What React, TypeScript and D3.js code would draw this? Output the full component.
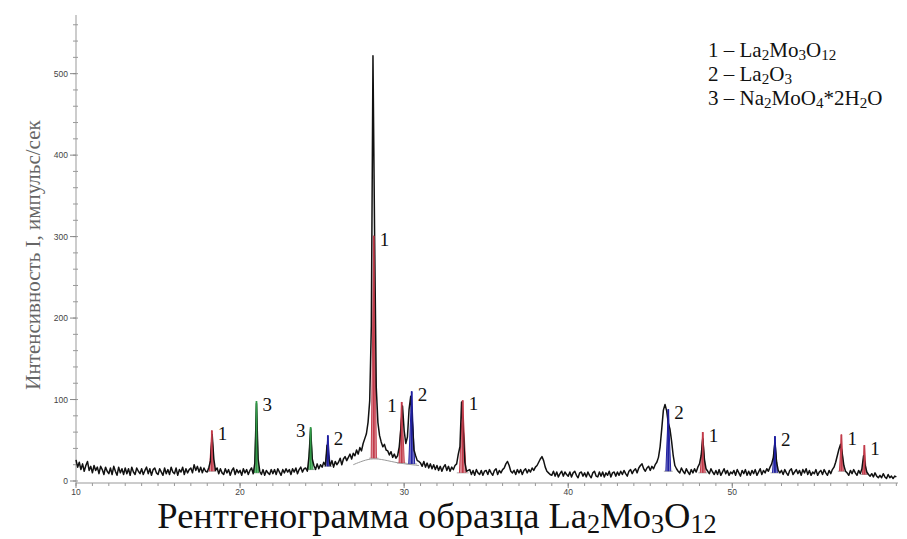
import React from 'react'
import * as d3 from 'd3'

const width = 907
const height = 539

// measured pattern: 2θ from 10.0 in 0.1° steps, one row per degree
const thetaStart = 10
const thetaStep = 0.1
const counts = [
  26, 17, 23, 14, 21, 12, 19, 24, 13, 18,
  10, 19, 13, 17, 9, 18, 14, 8, 17, 12,
  9, 16, 8, 18, 12, 7, 17, 10, 15, 8,
  16, 9, 15, 7, 17, 11, 8, 16, 12, 9,
  15, 8, 13, 17, 9, 15, 7, 14, 16, 10,
  8, 15, 11, 7, 16, 9, 14, 8, 17, 11,
  9, 16, 7, 14, 11, 17, 8, 15, 10, 14,
  16, 10, 20, 13, 18, 11, 17, 10, 16, 12,
  11, 17, 25, 57, 27, 13, 16, 9, 15, 10,
  8, 15, 10, 14, 7, 13, 16, 8, 14, 10,
  13, 7, 15, 10, 14, 8, 13, 16, 9, 22,
  95, 27, 12, 8, 14, 7, 13, 10, 8, 14,
  9, 14, 8, 15, 11, 7, 14, 10, 15, 11,
  14, 8, 15, 11, 16, 9, 14, 17, 11, 15,
  16, 12, 30, 64, 27, 19, 14, 21, 15, 20,
  17, 23, 19, 44, 28, 19, 25, 17, 24, 20,
  23, 28, 20, 27, 30, 25, 29, 33, 27, 34,
  31, 38, 33, 41, 37, 46, 52, 58, 72, 98,
  190, 522, 300, 115, 72, 56, 48, 42, 45, 38,
  37, 32, 36, 29, 33, 28, 31, 42, 64, 92,
  62, 46, 54, 88, 104, 72, 38, 31, 25, 24,
  22, 18, 24, 17, 22, 16, 21, 15, 20, 14,
  19, 13, 18, 12, 17, 20, 13, 18, 12, 17,
  14, 19, 21, 33, 42, 97, 62, 23, 12, 13,
  14, 8, 13, 7, 14, 10, 8, 13, 7, 12,
  13, 8, 14, 10, 7, 13, 15, 8, 13, 10,
  14, 16, 21, 24, 19, 12, 10, 13, 8, 14,
  10, 14, 8, 13, 15, 10, 14, 11, 16, 13,
  17, 19, 23, 27, 30, 25, 17, 12, 10, 8,
  7, 12, 6, 11, 5, 9, 12, 6, 11, 8,
  6, 11, 5, 10, 12, 7, 4, 10, 11, 6,
  10, 5, 11, 7, 4, 10, 12, 6, 5, 11,
  6, 11, 5, 10, 7, 12, 5, 10, 11, 6,
  11, 7, 12, 8, 13, 9, 6, 12, 14, 9,
  13, 15, 10, 16, 19, 21, 15, 12, 16, 18,
  13, 18, 15, 20, 23, 29, 42, 64, 87, 94,
  86, 71, 64, 49, 31, 19, 15, 12, 10, 16,
  12, 9, 15, 11, 8, 14, 10, 15, 11, 17,
  21, 31, 52, 27, 15, 12, 9, 15, 11, 8,
  13, 8, 14, 7, 11, 15, 9, 13, 7, 11,
  9, 13, 7, 14, 10, 6, 13, 9, 14, 7,
  12, 7, 13, 9, 14, 7, 11, 15, 8, 13,
  10, 15, 12, 17, 21, 29, 47, 23, 13, 10,
  13, 8, 14, 10, 7, 13, 15, 8, 11, 14,
  9, 13, 7, 14, 10, 15, 8, 13, 7, 11,
  9, 14, 7, 11, 13, 8, 14, 10, 7, 13,
  9, 14, 17, 23, 31, 39, 45, 34, 19, 12,
  10, 7, 13, 9, 14, 10, 7, 13, 9, 15,
  31, 19, 11, 8, 6, 9, 5, 10, 6, 4,
  7, 4, 9, 5, 3, 8, 4, 6, 3, 6,
  5,
]

// fitted background under the main reflection
const background = [
  [26.9, 20], [27.5, 25], [28.1, 28], [28.8, 26], [29.6, 22], [30.9, 19],
]

// identified reflections
const peakPhase = [1, 3, 3, 2, 1, 1, 2, 1, 2, 1, 2, 1, 1]
const peakPos = [18.28, 21.0, 24.3, 25.35, 28.15, 29.85, 30.46, 33.57, 46.1, 48.2, 52.6, 56.65, 58.05]
const peakTop = [62, 98, 66, 56, 301, 97, 110, 99, 88, 60, 55, 57, 44]
const peakBase = [12, 10, 14, 18, 28, 22, 21, 10, 12, 10, 10, 12, 8]
const peakHalf = [0.15, 0.12, 0.14, 0.14, 0.16, 0.16, 0.18, 0.2, 0.15, 0.15, 0.15, 0.12, 0.12]
const labelSide = ['r', 'r', 'l', 'r', 'r', 'l', 'r', 'r', 'r', 'r', 'r', 'r', 'r']

const phaseColor: Record<number, string> = {1: '#c23b4a', 2: '#1f1fa0', 3: '#2f9a45'}

const xMajor = [10, 20, 30, 40, 50]
const yMajor = [0, 100, 200, 300, 400, 500]

const x = d3.scaleLinear().domain([10, 60.1]).range([76, 898])
const y = d3.scaleLinear().domain([0, 572]).range([481, 15])

const serif = '"Liberation Serif", "Times New Roman", serif'
const sans = '"Liberation Sans", Arial, sans-serif'

const Sub = ({children, size = '72%'}: {children: React.ReactNode; size?: string}) => (
  <tspan baselineShift="-18%" fontSize={size}>{children}</tspan>
)

export default function App() {
  const pattern = counts.map((c, i) => [thetaStart + i * thetaStep, c] as [number, number])
  const line = d3.line<[number, number]>().x(d => x(d[0])).y(d => y(d[1]))
  const bgLine = d3.line<number[]>().x(d => x(d[0])).y(d => y(d[1])).curve(d3.curveBasis)

  const xMinor = d3.range(10, 61, 1)
  const yMinor = d3.range(0, 561, 20)

  return (
    <svg width={width} height={height} style={{position: 'absolute', left: 0, top: 0, background: '#fff'}}>
      {/* axes */}
      <line x1={76} x2={76} y1={y(572)} y2={y(0) + 2} stroke="#999" />
      <line x1={76} x2={898} y1={y(0) + 2} y2={y(0) + 2} stroke="#999" />
      {yMinor.map(v => (
        <line key={'ym' + v} x1={73} x2={78} y1={y(v)} y2={y(v)} stroke="#999" />
      ))}
      {yMajor.map(v => (
        <g key={'y' + v}>
          <line x1={70} x2={76} y1={y(v)} y2={y(v)} stroke="#888" />
          <text x={68} y={y(v) + 3} textAnchor="end" fontFamily={sans} fontSize={8.5} fill="#444">{v}</text>
        </g>
      ))}
      {xMinor.map(v => (
        <line key={'xm' + v} x1={x(v)} x2={x(v)} y1={y(0) + 2} y2={y(0) + 5} stroke="#999" />
      ))}
      {xMajor.map(v => (
        <g key={'x' + v}>
          <line x1={x(v)} x2={x(v)} y1={y(0) + 2} y2={y(0) + 7} stroke="#888" />
          <text x={x(v)} y={y(0) + 13.5} textAnchor="middle" fontFamily={sans} fontSize={8.5} fill="#444">{v}</text>
        </g>
      ))}

      {/* background and reflections */}
      <path d={bgLine(background) || ''} fill="none" stroke="#999" strokeWidth={1} />
      {peakPos.map((p, i) => {
        const c = phaseColor[peakPhase[i]]
        const d = `M${x(p - peakHalf[i])},${y(peakBase[i])}L${x(p)},${y(peakTop[i])}L${x(p + peakHalf[i])},${y(peakBase[i])}`
        return (
          <g key={'p' + i}>
            <line x1={x(p - peakHalf[i] * 1.8)} x2={x(p + peakHalf[i] * 1.8)} y1={y(peakBase[i])} y2={y(peakBase[i])} stroke="#aaa" />
            <path d={d} fill={c} fillOpacity={0.55} stroke={c} strokeWidth={1} />
          </g>
        )
      })}

      {/* measured pattern */}
      <path d={line(pattern) || ''} fill="none" stroke="#111" strokeWidth={1.5} strokeLinejoin="round" />

      {/* reflections' centre lines on top */}
      {peakPos.map((p, i) => (
        <line key={'c' + i} x1={x(p)} x2={x(p)} y1={y(peakBase[i])} y2={y(peakTop[i])}
          stroke={phaseColor[peakPhase[i]]} strokeWidth={1.8} />
      ))}

      {peakPos.map((p, i) => (
        <text key={'l' + i}
          x={labelSide[i] === 'r' ? x(p) + 6 : x(p) - 5}
          y={y(peakTop[i]) + 10}
          textAnchor={labelSide[i] === 'r' ? 'start' : 'end'}
          fontFamily={serif} fontSize={19} fill="#111">
          {peakPhase[i]}
        </text>
      ))}

      {/* legend */}
      <g fontFamily={serif} fontSize={21} fill="#111">
        <text x={708} y={57}>1 – La<Sub>2</Sub>Mo<Sub>3</Sub>O<Sub>12</Sub></text>
        <text x={708} y={81}>2 – La<Sub>2</Sub>O<Sub>3</Sub></text>
        <text x={708} y={105}>3 – Na<Sub>2</Sub>MoO<Sub>4</Sub>*2H<Sub>2</Sub>O</text>
      </g>

      {/* axis title */}
      <text transform="translate(40,255) rotate(-90)" textAnchor="middle" fontFamily={serif} fontSize={21} fill="#666">
        Интенсивность I, импульс/сек
      </text>

      {/* caption */}
      <text x={437} y={528} textAnchor="middle" fontFamily={serif} fontSize={36.5} fill="#111">
        Рентгенограмма образца La<Sub>2</Sub>Mo<Sub>3</Sub>O<Sub>12</Sub>
      </text>
    </svg>
  )
}
